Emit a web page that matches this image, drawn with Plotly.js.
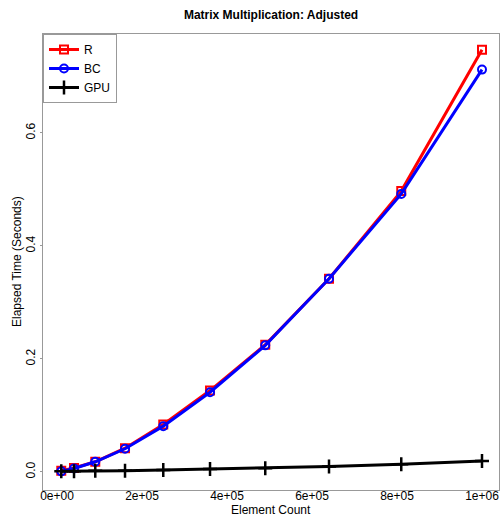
<!DOCTYPE html>
<html>
<head>
<meta charset="utf-8">
<script src="https://cdn.plot.ly/plotly-3.0.1.min.js"></script>
<style>html,body{margin:0;padding:0;background:#fff;}#chart{width:501px;height:520px;}</style>
</head>
<body>
<div id="chart"></div>
<script>
const elementCount = [10000, 40000, 90000, 160000, 250000, 360000, 490000, 640000, 810000, 1000000];
const timeR   = [0.002, 0.007, 0.018, 0.042, 0.084, 0.144, 0.225, 0.342, 0.497, 0.747];
const timeBC  = [0.001, 0.006, 0.018, 0.041, 0.081, 0.141, 0.224, 0.342, 0.492, 0.712];
const timeGPU = [0.001, 0.001, 0.002, 0.002, 0.0035, 0.005, 0.0065, 0.0095, 0.0135, 0.0195];
const xTickVals = [0, 200000, 400000, 600000, 800000, 1000000];
const xTickText = ["0e+00", "2e+05", "4e+05", "6e+05", "8e+05", "1e+06"];
const yTickVals = [0, 0.2, 0.4, 0.6];
const yTickText = ["0.0", "0.2", "0.4", "0.6"];
const chartTitle = "Matrix Multiplication: Adjusted";
const xTitle = "Element Count";
const yTitle = "Elapsed Time (Seconds)";

const font = "Liberation Sans, Arial, sans-serif";
const traces = [
  {x: elementCount, y: timeR, name: "R", mode: "lines+markers",
   line: {color: "#ff0000", width: 3},
   marker: {symbol: "square-open", size: 8, color: "#ff0000", line: {width: 2}}},
  {x: elementCount, y: timeBC, name: "BC", mode: "lines+markers",
   line: {color: "#0000ff", width: 3},
   marker: {symbol: "circle-open", size: 8, color: "#0000ff", line: {width: 2}}},
  {x: elementCount, y: timeGPU, name: "GPU", mode: "lines+markers",
   line: {color: "#000000", width: 3},
   marker: {symbol: "cross-thin-open", size: 10, color: "#000000", line: {width: 2.5, color: "#000000"}}}
];
const layout = {
  width: 501, height: 520,
  margin: {l: 43, r: 2, t: 34, b: 30},
  paper_bgcolor: "#fff", plot_bgcolor: "#fff",
  font: {family: font, size: 12, color: "#000"},
  title: {text: "<b>" + chartTitle + "</b>", x: 0.541, xanchor: "center", y: 0.972, yanchor: "middle",
          font: {family: font, size: 12, color: "#000"}},
  showlegend: true,
  legend: {x: 0, y: 1, xanchor: "left", yanchor: "top", bgcolor: "#fff",
           bordercolor: "#999", borderwidth: 1, font: {family: font, size: 12},
           tracegroupgap: 0, itemwidth: 30},
  xaxis: {range: [-33000, 1040000], tickvals: xTickVals, ticktext: xTickText,
          showgrid: false, zeroline: false, showline: true, mirror: true,
          linecolor: "#999", linewidth: 1, ticks: "", ticklabelstandoff: -5,
          tickfont: {family: font, size: 12, color: "#000"},
          automargin: false},
  yaxis: {range: [-0.032, 0.775], tickvals: yTickVals, ticktext: yTickText, tickangle: -90,
          showgrid: false, zeroline: false, showline: true, mirror: true,
          linecolor: "#999", linewidth: 1, ticks: "outside", ticklen: 2, tickcolor: "#999",
          ticklabelstandoff: 0,
          tickfont: {family: font, size: 12, color: "#000"},
          automargin: false},
  annotations: [
    {text: xTitle, xref: "paper", yref: "paper", x: 0.5, y: -0.043, xanchor: "center", yanchor: "middle",
     showarrow: false, font: {family: font, size: 12, color: "#000"}},
    {text: yTitle, xref: "paper", yref: "paper", x: -0.057, y: 0.5, xanchor: "center", yanchor: "middle",
     textangle: -90, showarrow: false, font: {family: font, size: 12, color: "#000"}}
  ]
};
Plotly.newPlot("chart", traces, layout, {displayModeBar: false, staticPlot: true});
</script>
</body>
</html>
